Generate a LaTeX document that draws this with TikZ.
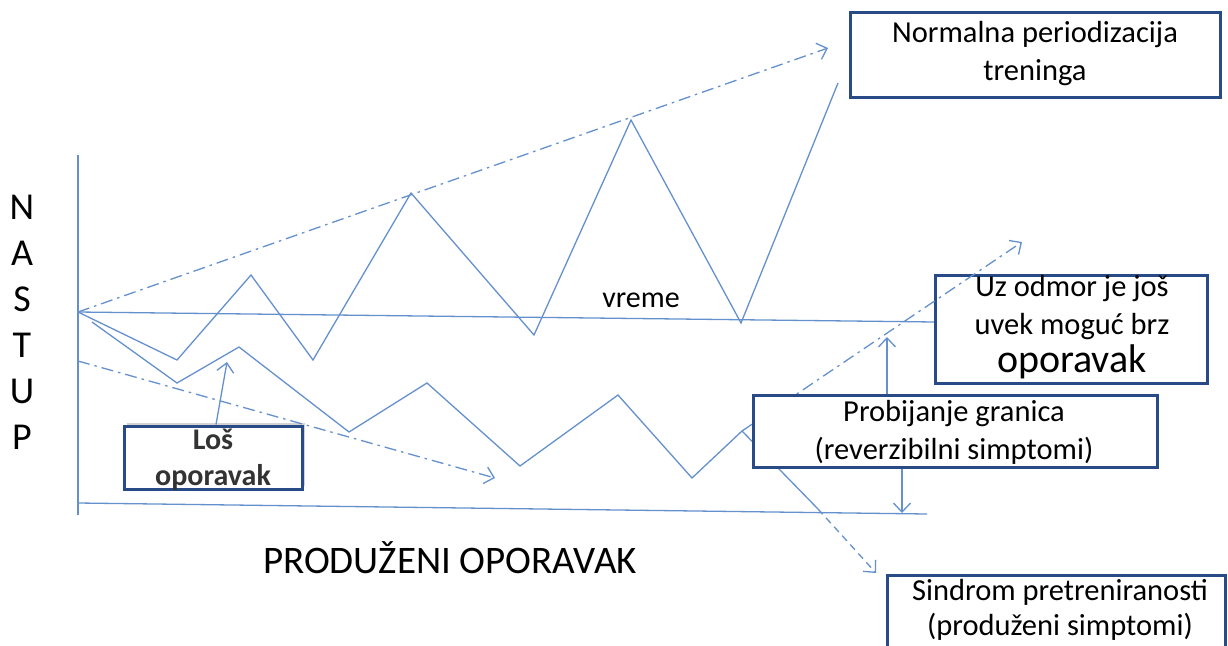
\documentclass[tikz,border=0pt]{standalone}
\usepackage{fontspec}
\setmainfont{Carlito}
\usetikzlibrary{arrows.meta,shadows}
\definecolor{lnc}{RGB}{100,145,205}
\definecolor{bxc}{RGB}{40,75,135}
\begin{document}
\begin{tikzpicture}[x=1pt,y=-1pt,
  ln/.style={draw=lnc,line width=1.3pt},
  dd/.style={ln,dash pattern=on 12pt off 5pt on 2.5pt off 5pt},
  dsh/.style={ln,dash pattern=on 7pt off 5pt},
  tip/.style={-{Straight Barb[length=9pt,width=17pt,line width=1.3pt]}},
  box/.style={draw=bxc,line width=3pt,fill=white,inner sep=0pt},
  lbl/.style={font=\fontsize{30.5}{38}\selectfont,align=center,inner sep=0pt,text=black}]
\useasboundingbox (0,0) rectangle (1228,645);
\begin{scope}
\clip (0,0) rectangle (1228,645);
% axes
\coordinate (O) at (78,312);
\draw[ln] (78,155) -- (78,515);
\draw[ln] (78,503) -- (927,514);
\draw[ln] (O) -- (935,322);
% upper dash-dot trend
\draw[dd,tip] (O) -- (828,48);
% upper zigzag
\draw[ln] (O) -- (177,360) -- (251,275) -- (313,360) -- (411,193) -- (534,335) -- (631,120) -- (741,323) -- (838,83);
% lower dash-dot trend
\draw[dd,tip] (78,361) -- (495,478);
% lower zigzag
\coordinate (pk) at (742,431);
\draw[ln] (92,322) -- (177,383) -- (239,347) -- (349,432) -- (427,383) -- (520,466) -- (618,395) -- (692,478) -- (pk) -- (818,509);
\coordinate (sindT) at (876,573);
\draw[dsh,tip] (818,509) -- (sindT);
% boxes
\node[box,minimum width=272pt,minimum height=108pt] (uz) at (1071,329) {};
\node[lbl] (uzt) at (1072,327) {Uz odmor je još\\uvek moguć brz\\{\fontsize{40}{40}\selectfont oporavak}};
\draw[dd,tip] (pk) -- (1022,242);
\node[box,minimum width=404pt,minimum height=72pt] (prob) at (955,431) {};
\node[lbl] (probt) at (954,432) {Probijanje granica\\(reverzibilni simptomi)};
\node[box,minimum width=370pt,minimum height=85pt] (norm) at (1035,54.5) {};
\node[lbl] (normt) at (1035,54) {Normalna periodizacija\\treninga};
\node[box,minimum width=338pt,minimum height=110pt,anchor=north] (sind) at (1056,574) {};
\node[lbl,font=\fontsize{30.5}{35}\selectfont] (sindt) at (1060,610) {Sindrom pretreniranosti\\(produženi simptomi)};
\node[box,minimum width=178pt,minimum height=63pt,drop shadow={shadow xshift=3pt,shadow yshift=3pt,opacity=0.35}] (los) at (213,457.5) {};
\node[lbl,font=\bfseries\fontsize{30}{36}\selectfont,text=black!80] (lost) at (213,460) {Loš\\oporavak};
% arrows
\coordinate (losT) at (227,362);
\draw[ln,tip] (los.north -| 216,0) -- (losT);
\coordinate (upA) at (887,337);
\draw[ln,tip] (prob.north -| upA) -- (upA);
\coordinate (dnB) at (902,513);
\draw[ln,tip] (prob.south -| dnB) -- (dnB);
% labels
\node[font=\fontsize{38}{46}\selectfont,align=center,inner sep=0pt] (nastup) at (22,322) {N\\A\\S\\T\\U\\P};
\node[font=\fontsize{30}{32}\selectfont,inner sep=0pt] (vreme) at (641,300) {vreme};
\node[font=\fontsize{39}{42}\selectfont,inner sep=0pt,anchor=base] (prod) at (450,573) {PRODUŽENI OPORAVAK};
\end{scope}
\end{tikzpicture}
\end{document}
